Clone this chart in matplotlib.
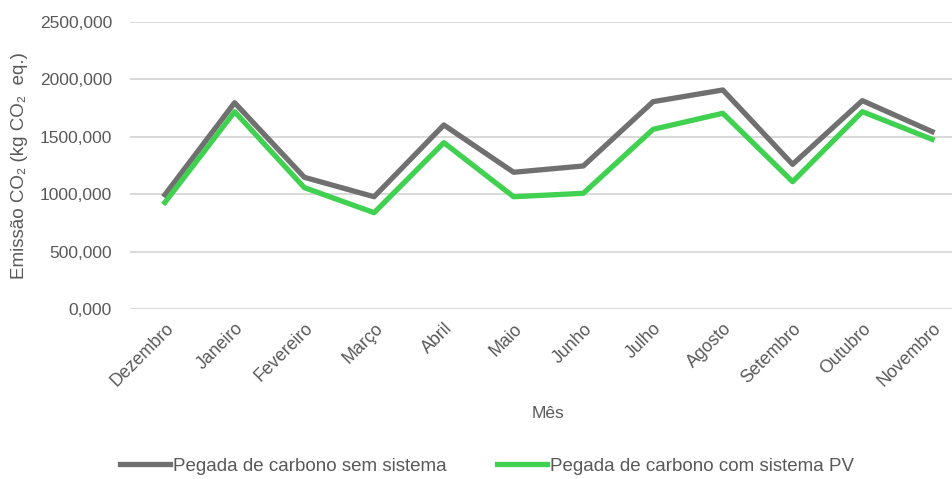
import numpy as np
import matplotlib.pyplot as plt

# Emissões mensais (kg CO2 eq.)
meses = ['Dezembro', 'Janeiro', 'Fevereiro', 'Março', 'Abril', 'Maio',
         'Junho', 'Julho', 'Agosto', 'Setembro', 'Outubro', 'Novembro']
sem_sistema = [995, 1797, 1147, 978, 1603, 1191, 1246, 1806, 1908, 1260, 1815, 1545]
com_sistema_pv = [928, 1719, 1057, 839, 1449, 978, 1008, 1565, 1705, 1109, 1719, 1478]

plt.rcParams['font.family'] = ['Liberation Sans', 'DejaVu Sans']
txt = '#595959'

fig = plt.figure(figsize=(9.53, 4.79), dpi=100)
ax = fig.add_axes([130 / 953, 1 - 309 / 479, 1 - 130 / 953, 287 / 479])

x = np.arange(len(meses))
ax.plot(x, sem_sistema, color='#707070', lw=3.8, label='Pegada de carbono sem sistema', zorder=3)
ax.plot(x, com_sistema_pv, color='#3fd14f', lw=3.8, label='Pegada de carbono com sistema PV', zorder=3)

ax.set_ylim(0, 2500)
ax.set_xlim(-0.5, 11.3)
ax.set_yticks(np.arange(0, 2501, 500))
ax.set_yticklabels([f'{v},000' for v in range(0, 2501, 500)])
ax.set_xticks(x)
ax.set_xticklabels(meses, rotation=45, ha='right', rotation_mode='anchor')
ax.tick_params(length=0, labelsize=12.5, labelcolor=txt)
ax.tick_params(axis='y', pad=13)
ax.tick_params(axis='x', pad=8, labelsize=12.8)
ax.grid(axis='y', color='#d9d9d9', lw=1.4)
ax.set_axisbelow(True)
for s in ax.spines.values():
    s.set_visible(False)

ax.set_ylabel('Emissão CO\u2082 (kg CO\u2082  eq.)', fontsize=13.5, color=txt)
ax.yaxis.set_label_coords(-102 / 823, 0.5)
fig.text(548 / 953, 1 - 413 / 479, 'Mês', ha='center', va='center', fontsize=12.5, color=txt)

fig.legend(loc='center', bbox_to_anchor=(487 / 953, 1 - 466 / 479), ncol=2, frameon=False,
           fontsize=13.5, labelcolor=txt, handlelength=2.67, handletextpad=0.15,
           columnspacing=2.67)

fig.savefig('out.png', dpi=100)
